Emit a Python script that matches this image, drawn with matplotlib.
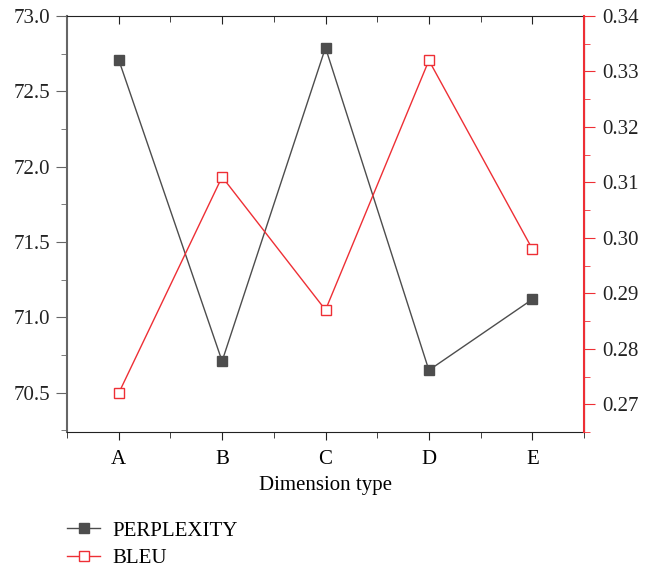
import matplotlib
matplotlib.use("Agg")
import matplotlib.pyplot as plt
from matplotlib.ticker import MultipleLocator, FixedLocator, FormatStrFormatter
from matplotlib.lines import Line2D

categories = ["A", "B", "C", "D", "E"]
perplexity = [72.71, 70.71, 72.79, 70.65, 71.12]
bleu = [0.272, 0.311, 0.287, 0.332, 0.298]

plt.rcParams['font.family'] = ['Liberation Serif', 'DejaVu Serif']
plt.rcParams['font.size'] = 15

fig = plt.figure(figsize=(6.52, 5.68), dpi=100)
ax = fig.add_axes([67/652, 1-432/568, (584-67)/652, (432-16)/568])
ax2 = ax.twinx()

gray = "#4d4d4d"
red = "#ee2f35"
x = list(range(1, len(categories)+1))
ax.plot(x, perplexity, color=gray, lw=1.0, marker='s', ms=6.5, mfc=gray, mec=gray, zorder=3)
ax2.plot(x, bleu, color=red, lw=1.0, marker='s', ms=6.5, mfc='white', mec=red, mew=1.0, zorder=3)

ax.set_xlim(0.5, 5.5)
ax.set_ylim(70.24, 73.0)
ax2.set_ylim(0.265, 0.34)
ax.set_xticks(x)
ax.set_xticklabels(categories)
ax.xaxis.set_minor_locator(FixedLocator([0.5, 1.5, 2.5, 3.5, 4.5, 5.5]))
ax.yaxis.set_major_locator(MultipleLocator(0.5))
ax.yaxis.set_minor_locator(MultipleLocator(0.25))
ax.yaxis.set_major_formatter(FormatStrFormatter('%.1f'))
ax2.yaxis.set_major_locator(MultipleLocator(0.01))
ax2.yaxis.set_minor_locator(MultipleLocator(0.005))
ax2.yaxis.set_major_formatter(FormatStrFormatter('%.2f'))

ax.tick_params(axis='x', which='both', direction='out', top=True, labeltop=False, color='#222222')
ax.tick_params(axis='x', which='major', length=6, pad=7)
ax.tick_params(axis='x', which='minor', length=4)
ax.tick_params(axis='y', which='major', direction='out', length=8, color='#666666', labelcolor='#222222', pad=4)
ax.tick_params(axis='y', which='minor', direction='out', length=4, color='#666666')
ax2.tick_params(axis='y', which='major', direction='out', length=8, color=red, labelcolor='#222222', pad=5)
ax2.tick_params(axis='y', which='minor', direction='out', length=4, color=red)
for t in ax.xaxis.get_major_ticks() + ax.xaxis.get_minor_ticks():
    t.tick2line.set_marker(3)

ax.spines['left'].set_color('#666666')
ax.spines['left'].set_linewidth(1.5)
ax.spines['bottom'].set_color('#222222')
ax.spines['top'].set_color('#222222')
ax2.spines['right'].set_color(red)
ax2.spines['right'].set_linewidth(1.5)
ax2.spines['left'].set_visible(False)
ax2.spines['top'].set_visible(False)
ax2.spines['bottom'].set_visible(False)

ax.set_xlabel("Dimension type", labelpad=5)

handles = [
    Line2D([], [], color=gray, lw=1.0, marker='s', ms=6.5, mfc=gray, mec=gray),
    Line2D([], [], color=red, lw=1.0, marker='s', ms=6.5, mfc='white', mec=red),
]
fig.legend(handles, ["PERPLEXITY", "BLEU"], loc='upper left',
           bbox_to_anchor=(67/652, 1-521/568), frameon=False, borderpad=0,
           borderaxespad=0, handlelength=1.6, handletextpad=0.6, labelspacing=0.38)

fig.savefig("out.png", dpi=100)
